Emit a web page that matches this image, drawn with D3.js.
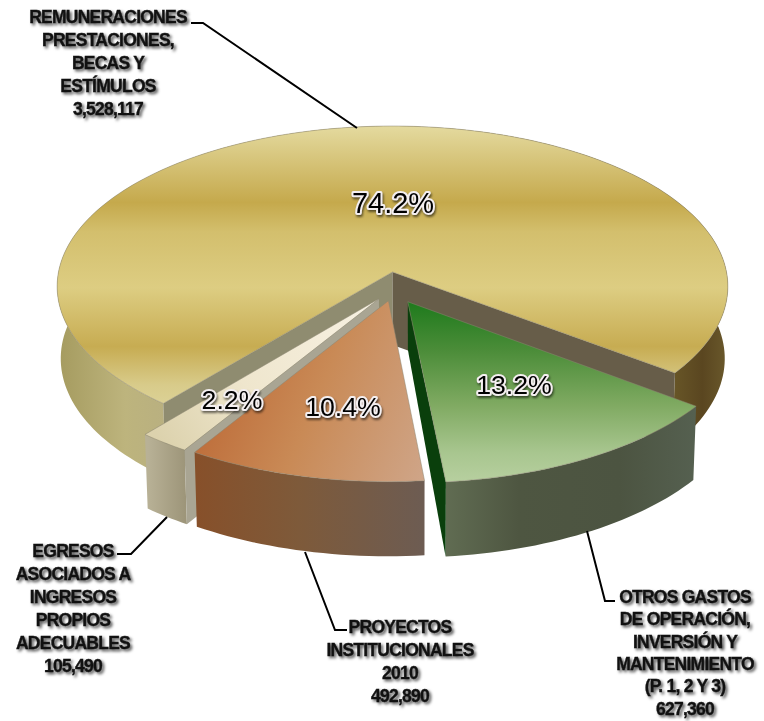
<!DOCTYPE html>
<html>
<head>
<meta charset="utf-8">
<script src="https://cdn.jsdelivr.net/npm/d3@7"></script>
<style>
    html, body { margin: 0; padding: 0; background: #fff; }
    svg { display: block; }
    .callout { font-family: "Liberation Sans", Arial, sans-serif; font-weight: bold; font-size: 17.5px; letter-spacing: -0.75px; fill: #111; stroke: #111; stroke-width: 0.35px; text-anchor: middle; filter: drop-shadow(2px 2px 1.5px rgba(0, 0, 0, 0.7)); }
    .percent { font-family: "Liberation Sans", Arial, sans-serif; fill: #000; text-anchor: middle; stroke: #f4eff0; stroke-width: 4px; paint-order: stroke; stroke-linejoin: round; filter: drop-shadow(1.5px 2px 1px rgba(0, 0, 0, 0.55)); }
    .leader { fill: none; stroke: #000; stroke-width: 2px; }
</style>
</head>
<body>
<div id="chart"></div>
<script>
const categories = ["REMUNERACIONES", "OTROS GASTOS", "PROYECTOS", "EGRESOS"]
const values = [3528117, 627360, 492890, 105490]
const labelLines = [
    ["REMUNERACIONES", "PRESTACIONES,", "BECAS Y", "ESTÍMULOS", "3,528,117"],
    ["OTROS GASTOS", "DE OPERACIÓN,", "INVERSIÓN Y", "MANTENIMIENTO", "(P. 1, 2 Y 3)", "627,360"],
    ["PROYECTOS", "INSTITUCIONALES", "2010", "492,890"],
    ["EGRESOS", "ASOCIADOS A", "INGRESOS", "PROPIOS", "ADECUABLES", "105,490"],
]

const dimensions = {width: 764, height: 721}
const pieView = {cx: 392.5, cy: 272, rx: 334, ry: 159.1, perspective: 0.09, depth: 72}
const toRadians = d => d * Math.PI / 180

// painted back to front
const drawOrder = [0, 3, 2, 1]

// per slice layout, same order as the values
const sliceLayout = [
    {
        offset: [0, 0], apexDrop: 73, radialFaces: ["#8f8c70", "#675d49"],
        top: {x1: 0, y1: 126, x2: 0, y2: 420, stops: [[0, "#e4da9f"], [0.26, "#c5a94c"], [0.36, "#d3bf6d"], [0.55, "#ddcd82"], [0.75, "#c7ac52"], [0.88, "#d8cb8a"], [1, "#dfd69f"]]},
        wall: {x1: 58, y1: 0, x2: 729, y2: 0, stops: [[0, "#a59b5f"], [0.1, "#bdb47d"], [0.16, "#b9b080"], [0.5, "#8a7a40"], [0.9, "#6d5c2a"], [0.96, "#5a4620"], [1, "#6b5a2c"]]},
        percent: {x: 393, y: 213, size: 29},
        leader: [[191, 23], [203, 23], [357, 128]],
        label: {x: 108, y: 23, step: 23},
    },
    {
        offset: [0.045, 0.184], apexDrop: 48, radialFaces: [null, "#0a3f0c"],
        top: {x1: 0, y1: 302, x2: 0, y2: 490, stops: [[0, "#1e7a1c"], [0.25, "#4a8c38"], [0.55, "#80aa62"], [0.8, "#a8c68f"], [1, "#bbd2a4"]]},
        wall: {x1: 443, y1: 0, x2: 695, y2: 0, stops: [[0, "#616d53"], [0.3, "#4e5641"], [0.7, "#4c5441"], [1, "#556050"]]},
        percent: {x: 514, y: 394, size: 26.7},
        leader: [[587, 531], [605, 601], [615, 601]],
        label: {x: 685, y: 603, step: 22.3},
    },
    {
        offset: [-0.012, 0.178], apexDrop: 73, radialFaces: [null, null],
        top: {x1: 200, y1: 400, x2: 420, y2: 490, stops: [[0, "#bd6b38"], [0.45, "#c98a56"], [1, "#cfa588"]]},
        wall: {x1: 196, y1: 0, x2: 423, y2: 0, stops: [[0, "#87502a"], [0.45, "#7e5a3a"], [1, "#6d5c52"]]},
        percent: {x: 343, y: 416, size: 26.7},
        leader: [[305, 552], [335, 630], [347, 630]],
        label: {x: 400, y: 633, step: 23},
    },
    {
        offset: [-0.04, 0.166], apexDrop: 73, radialFaces: ["#a9a593", null],
        top: {x1: 370, y1: 300, x2: 160, y2: 440, stops: [[0, "#f7f1e2"], [0.6, "#efe6cd"], [1, "#dcd2ad"]]},
        wall: {x1: 148, y1: 0, x2: 187, y2: 0, stops: [[0, "#b8b196"], [1, "#9c9478"]]},
        percent: {x: 232, y: 409, size: 26.7},
        leader: [[117, 554], [131, 554], [167, 517]],
        label: {x: 73, y: 557, step: 23},
    },
]

// circle coordinates (u, v) on the tilted plane, v grows towards the viewer
function project(u, v) {
    const w = 1 - pieView.perspective * v
    return [pieView.cx + pieView.rx * u / w, pieView.cy + pieView.ry * v / w]
}

function lower(point, drop) {
    return [pieView.cx + 25 + (point[0] - pieView.cx - 25) * 0.99, point[1] + drop]
}

function DrawPie() {
    const wrapper = d3.select("#chart")
        .append("svg")
        .attr("width", dimensions.width)
        .attr("height", dimensions.height)
    const defs = wrapper.append("defs")
    const bounds = wrapper.append("g")

    const total = d3.sum(values)
    const percentFormat = d3.format(".1f")
    const pie = d3.pie().sort(null)
        .startAngle(toRadians(219.7))
        .endAngle(toRadians(219.7 + 360))
    const slices = pie(values)
    const line = d3.line()

    function addGradient(id, spec) {
        const gradient = defs.append("linearGradient")
            .attr("id", id)
            .attr("gradientUnits", "userSpaceOnUse")
            .attr("x1", spec.x1).attr("y1", spec.y1)
            .attr("x2", spec.x2).attr("y2", spec.y2)
        gradient.selectAll("stop").data(spec.stops).join("stop")
            .attr("offset", d => d[0])
            .attr("stop-color", d => d[1])
    }

    drawOrder.forEach(i => {
        const slice = slices[i]
        const layout = sliceLayout[i]
        const [du, dv] = layout.offset
        const at = angle => project(du + Math.sin(angle), dv - Math.cos(angle))
        const apex = project(du, dv)
        const steps = Math.max(8, Math.round((slice.endAngle - slice.startAngle) * 40))
        const rim = d3.range(steps + 1).map(k => at(slice.startAngle + (slice.endAngle - slice.startAngle) * k / steps))
        const rimDrop = p => pieView.depth + 2 * (p[1] - pieView.cy) / pieView.ry
        const rimLow = rim.map(p => lower(p, rimDrop(p)))
        const apexLow = lower(apex, layout.apexDrop)
        const group = bounds.append("g").attr("class", "slice-" + categories[i])

        addGradient("top" + i, layout.top)
        addGradient("wall" + i, layout.wall)

        group.append("path")
            .attr("d", line(rim.concat(rimLow.slice().reverse())) + "Z")
            .attr("fill", "url(#wall" + i + ")")

        // radial faces: [start side, end side]
        const faces = [[rim[0], rimLow[0]], [rim[steps], rimLow[steps]]]
        faces.forEach((face, f) => {
            if (layout.radialFaces[f]) {
                group.append("path")
                    .attr("d", line([apex, face[0], face[1], apexLow]) + "Z")
                    .attr("fill", layout.radialFaces[f])
            }
        })

        group.append("path")
            .attr("d", line([apex].concat(rim)) + "Z")
            .attr("fill", "url(#top" + i + ")")
            .attr("stroke", "#8a8570")
            .attr("stroke-width", 0.5)
    })

    bounds.selectAll(".leader")
        .data(sliceLayout)
        .join("path")
        .attr("class", "leader")
        .attr("d", d => line(d.leader))

    slices.forEach((slice, i) => {
        const layout = sliceLayout[i]
        bounds.append("text")
            .attr("class", "percent")
            .attr("x", layout.percent.x)
            .attr("y", layout.percent.y)
            .style("font-size", layout.percent.size + "px")
            .text(percentFormat(slice.value / total * 100) + "%")
        bounds.append("text")
            .attr("class", "callout")
            .selectAll("tspan")
            .data(labelLines[i])
            .join("tspan")
            .attr("x", layout.label.x)
            .attr("y", (d, k) => layout.label.y + k * layout.label.step)
            .text(d => d)
    })
}

DrawPie()
</script>
</body>
</html>
